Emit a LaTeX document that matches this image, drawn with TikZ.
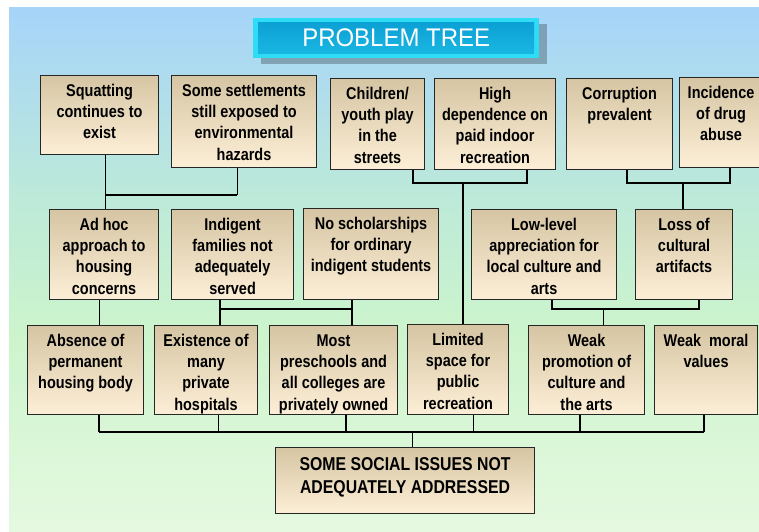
\documentclass[tikz,border=0pt]{standalone}
\usepackage{fontspec}
\setmainfont{Liberation Sans}
\newfontfamily\cellfont[FakeStretch=0.85]{Liberation Sans}
\newfontfamily\headfont[FakeStretch=0.94]{Liberation Sans}

\definecolor{bgA}{HTML}{A6D4FA}
\definecolor{bgB}{HTML}{BCE9DA}
\definecolor{bgC}{HTML}{CCF4CC}
\definecolor{bgD}{HTML}{E5F9E0}
\definecolor{celltop}{HTML}{D5C5A3}
\definecolor{cellbot}{HTML}{FDEFD7}
\definecolor{titleedge}{HTML}{2EDCF6}
\definecolor{titletop}{HTML}{0A9DD2}
\definecolor{titlebot}{HTML}{1CBAE4}

\tikzset{
  cell/.style={draw=black!85, line width=1.1pt, top color=celltop,
    bottom color=cellbot, inner sep=0pt, anchor=north west},
  rootcell/.style={cell},
  titlebox/.style={fill=titleedge, text=white, inner sep=0pt,
    anchor=north west, minimum width=286pt, minimum height=40pt,
    path picture={\fill[top color=titletop, bottom color=titlebot]
      ([shift={(5,4)}]path picture bounding box.north west) rectangle
      ([shift={(-5,-5)}]path picture bounding box.south east);}},
  conn/.style={draw=black, line width=1.8pt},
  thinconn/.style={draw=black, line width=1pt},
}

% box: name, left, top, right, bottom, text (top aligned, centred)
\newcommand\cellnode[6]{%
  \node[cell] (#1) at (#2,#3)
    {\parbox[t][\dimexpr#5pt-#3pt\relax][t]{\dimexpr#4pt-#2pt\relax}{%
      \centering\cellfont\bfseries\fontsize{17}{21.3}\selectfont
      \rule{0pt}{20.8pt}#6\par}};}

\begin{document}
\begin{tikzpicture}[x=1pt,y=-1pt]
\clip (0,0) rectangle (759,531);

% background
\fill[top color=bgA, bottom color=bgB] (9,7) rectangle (759,191);
\fill[top color=bgB, bottom color=bgC] (9,190) rectangle (759,331);
\fill[top color=bgC, bottom color=bgD] (9,330) rectangle (759,531);

% heading with its soft shadow
\fill[black, opacity=0.25] (261,24) rectangle (547,64);
\node[titlebox] (title) at (253,18)
  {\headfont\fontsize{25.5}{25.5}\selectfont PROBLEM TREE};

% top row
\cellnode{sq}{40}{75}{158}{154}{Squatting\\continues to\\exist}
\cellnode{st}{171}{75}{316}{167}{Some settlements\\still exposed to\\environmental\\hazards}
\cellnode{ch}{330}{78}{424}{169}{Children/\\youth play\\in the\\streets}
\cellnode{hd}{434}{78}{555}{169}{High\\dependence on\\paid indoor\\recreation}
\cellnode{cor}{566}{78}{672}{169}{Corruption\\prevalent}
\cellnode{inc}{679}{77}{762}{167}{Incidence\\of drug\\abuse}

% middle row
\cellnode{adhoc}{49}{209}{158}{299}{Ad hoc\\approach to\\housing\\concerns}
\cellnode{ind}{171}{209}{293}{299}{Indigent\\families not\\adequately\\served}
\cellnode{nos}{303}{208}{438}{299}{No scholarships\\for ordinary\\indigent students}
\cellnode{low}{471}{209}{616}{299}{Low-level\\appreciation for\\local culture and\\arts}
\cellnode{loss}{635}{209}{732}{299}{Loss of\\cultural\\artifacts}

% lower row
\cellnode{abs}{27}{325}{143}{414}{Absence of\\permanent\\housing body}
\cellnode{exi}{154}{325}{257}{414}{Existence of\\many\\private\\hospitals}
\cellnode{most}{269}{325}{397}{414}{Most\\preschools and\\all colleges are\\privately owned}
\cellnode{lim}{407}{324}{508}{414}{Limited\\space for\\public\\recreation}
\cellnode{wp}{528}{325}{644}{414}{Weak\\promotion of\\culture and\\the arts}
\cellnode{wm}{654}{325}{757}{414}{Weak~~moral\\values}

% core problem
\node[rootcell] (root) at (275,447)
  {\parbox[t][66pt][t]{259pt}{\centering\cellfont\bfseries
    \fontsize{18.6}{23}\selectfont\rule{0pt}{23pt}SOME SOCIAL ISSUES NOT\\ADEQUATELY ADDRESSED\par}};

% junctions
\coordinate (j1) at (105,195);
\coordinate (j2) at (237,195);
\coordinate (ja) at (99,300);
\coordinate (jc1) at (413,183);
\coordinate (jc2) at (527,183);
\coordinate (jc3) at (463,183);
\coordinate (jr1) at (627,183);
\coordinate (jr2) at (730,183);
\coordinate (jr3) at (683,183);
\coordinate (ji1) at (220,309);
\coordinate (ji2) at (352,309);
\coordinate (jl1) at (552,309);
\coordinate (jl2) at (699,309);
\coordinate (jl3) at (603,309);
\coordinate (b1) at (99,432);
\coordinate (b2) at (218,432);
\coordinate (b3) at (346,432);
\coordinate (b4) at (473,432);
\coordinate (b5) at (580,432);
\coordinate (b6) at (704,432);
\coordinate (bc) at (412,432);

% upper connectors
\draw[thinconn] (sq.south -| j1) -- (j1);
\draw[thinconn] (st.south -| j2) -- (j2);
\draw[conn] (j1) -- (j2);
\draw[thinconn] (j1) -- (adhoc.north -| j1);
\draw[conn] (ch.south -| jc1) -- (jc1) -- (jc2) -- (hd.south -| jc2);
\draw[conn] (jc3) -- (lim.north -| jc3);
\draw[conn] (cor.south -| jr1) -- (jr1) -- (jr2) -- (inc.south -| jr2);
\draw[conn] (jr3) -- (loss.north -| jr3);

% middle connectors
\draw[thinconn] (adhoc.south -| ja) -- (abs.north -| ja);
\draw[conn] (ind.south -| ji1) -- (ji1) -- (ji2) -- (nos.south -| ji2);
\draw[conn] (ji1) -- (exi.north -| ji1);
\draw[conn] (ji2) -- (most.north -| ji2);
\draw[conn] (low.south -| jl1) -- (jl1) -- (jl2) -- (loss.south -| jl2);
\draw[thinconn] (jl3) -- (wp.north -| jl3);

% lower connectors
\draw[conn] (abs.south -| b1) -- (b1);
\draw[thinconn] (exi.south -| b2) -- (b2);
\draw[conn] (most.south -| b3) -- (b3);
\draw[thinconn] (lim.south -| b4) -- (b4);
\draw[conn] (wp.south -| b5) -- (b5);
\draw[conn] (wm.south -| b6) -- (b6);
\draw[conn] (b1) -- (b6);
\draw[thinconn] (bc) -- (root.north -| bc);
\end{tikzpicture}
\end{document}
